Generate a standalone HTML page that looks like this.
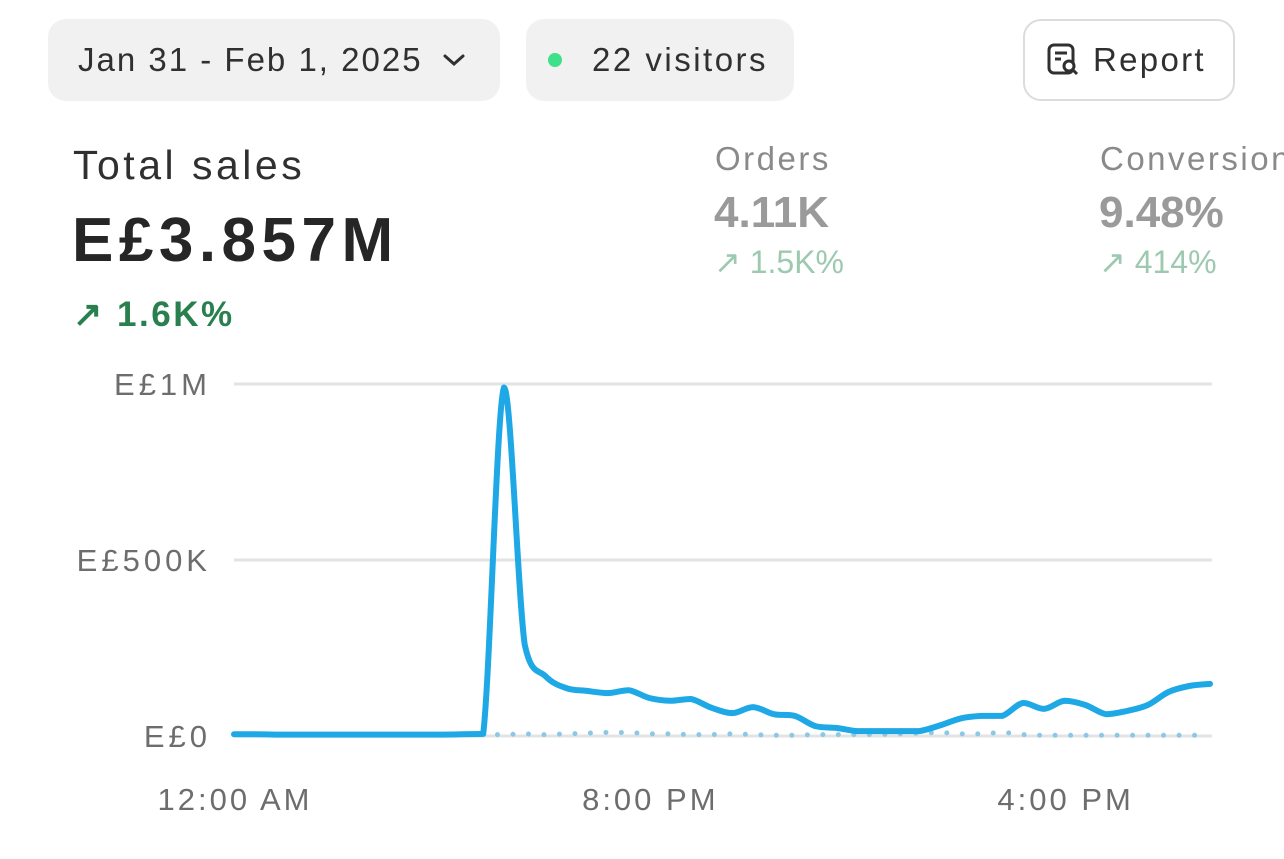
<!DOCTYPE html>
<html><head><meta charset="utf-8"><style>
body{margin:0;width:1284px;height:859px;background:#fff;font-family:"Liberation Sans",sans-serif;overflow:hidden;position:relative;color:#303030}
.pill{position:absolute;border-radius:18px;background:#f1f1f1;font-size:33px;display:flex;align-items:center;box-sizing:border-box;letter-spacing:2px}
.t{position:absolute;white-space:nowrap}
</style></head><body>
<div class="pill" style="left:48px;top:19px;width:452px;height:82px;padding-left:30px">Jan 31 - Feb 1, 2025<svg width="26" height="20" style="margin-left:18px" viewBox="0 0 26 20"><path d="M4 6 L13 14 L22 6" stroke="#303030" stroke-width="3" fill="none" stroke-linecap="round"/></svg></div>
<div class="pill" style="left:526px;top:19px;width:268px;height:82px;padding-left:22px;letter-spacing:2.5px"><span style="display:inline-block;width:14px;height:14px;border-radius:50%;background:#3ee08a;margin-right:30px"></span>22 visitors</div>
<div class="pill" style="left:1023px;top:19px;width:212px;height:82px;background:#fff;border:2px solid #dcdcdc;padding-left:20px;letter-spacing:2.3px"><svg width="36" height="36" viewBox="0 0 36 36" style="margin-right:12px"><rect x="4" y="3" width="24" height="28" rx="5" stroke="#303030" stroke-width="3" fill="none"/><path d="M10 11h12M10 17h6" stroke="#303030" stroke-width="3"/><circle cx="24" cy="24" r="5" stroke="#303030" stroke-width="3" fill="#fff"/><path d="M28 28l4 4" stroke="#303030" stroke-width="3"/></svg>Report</div>

<div class="t" style="left:73px;top:142px;font-size:41px;letter-spacing:3.5px">Total sales</div>
<div class="t" style="left:72px;top:205px;font-size:62px;font-weight:bold;color:#262626;letter-spacing:5.5px">E£3.857M</div>
<div class="t" style="left:73px;top:295px;font-size:35px;font-weight:bold;color:#2a7f4f;letter-spacing:2.5px">↗ 1.6K%</div>

<div class="t" style="left:715px;top:140px;font-size:33px;color:#8a8a8a;letter-spacing:2.5px">Orders</div>
<div class="t" style="left:714px;top:188px;font-size:44px;font-weight:bold;color:#9a9a9a">4.11K</div>
<div class="t" style="left:714px;top:243px;font-size:32px;color:#9cc9b0">↗ 1.5K%</div>
<div class="t" style="left:1100px;top:140px;font-size:33px;color:#8a8a8a;letter-spacing:2.5px">Conversion</div>
<div class="t" style="left:1099px;top:188px;font-size:44px;font-weight:bold;color:#9a9a9a">9.48%</div>
<div class="t" style="left:1099px;top:243px;font-size:32px;color:#9cc9b0">↗ 414%</div>

<svg id="chart" width="1284" height="859" style="position:absolute;left:0;top:0"></svg>
<script>
const yTicks=[0,0.5,1];
const yTickLabels=["E£0","E£500K","E£1M"];
const xTickIdx=[0,20,40];
const xTickLabels=["12:00 AM","8:00 PM","4:00 PM"];
const sales=[0.005,0.005,0.004,0.004,0.004,0.004,0.004,0.004,0.004,0.004,0.004,0.005,0.006,0.99,0.26,0.17,0.136,0.128,0.122,0.13,0.108,0.10,0.105,0.08,0.065,0.082,0.062,0.057,0.028,0.023,0.014,0.014,0.014,0.014,0.03,0.05,0.057,0.057,0.094,0.077,0.10,0.088,0.062,0.071,0.088,0.125,0.142,0.148];
const previous=[0.004,0.004,0.004,0.004,0.004,0.004,0.004,0.004,0.004,0.004,0.004,0.004,0.004,0.004,0.006,0.004,0.006,0.008,0.01,0.01,0.006,0.006,0.004,0.004,0.006,0.004,0.002,0.002,0.004,0.004,0.004,0.004,0.006,0.008,0.01,0.006,0.006,0.01,0.004,0.002,0.002,0.002,0.002,0.002,0.002,0.002,0.002,0.002];
const NS="http://www.w3.org/2000/svg",svg=document.getElementById('chart');
const x=i=>234+i*(976/47), y=v=>736-v*352;
function mk(t,a){const e=document.createElementNS(NS,t);for(const k in a)e.setAttribute(k,a[k]);svg.appendChild(e);return e;}
yTicks.forEach((v,i)=>{
 const l=mk('line',{x1:234,x2:1212,y1:y(v),y2:y(v),stroke:'#e3e3e3','stroke-width':3});
 
 
 const t=mk('text',{x:211,y:y(v)+11,'text-anchor':'end','font-size':31,fill:'#6d6d6d','letter-spacing':4});t.textContent=yTickLabels[i];
 
 
});
xTickIdx.forEach((v,i)=>{
 const t=mk('text',{x:x(v)+1,y:810,'text-anchor':'middle','font-size':31,fill:'#6d6d6d','letter-spacing':3});t.textContent=xTickLabels[i];
 
 
});
function path(arr){
 const P=arr.map((v,i)=>[x(i),y(v)]);let d='M'+P[0][0]+' '+P[0][1];
 const cl=(v,a,b)=>Math.max(Math.min(a,b),Math.min(Math.max(a,b),v));
 for(let i=0;i<P.length-1;i++){const p0=P[Math.max(0,i-1)],p1=P[i],p2=P[i+1],p3=P[Math.min(P.length-1,i+2)];
  const c1=[p1[0]+(p2[0]-p0[0])/6,cl(p1[1]+(p2[1]-p0[1])/6,p1[1],p2[1])],c2=[p2[0]-(p3[0]-p1[0])/6,cl(p2[1]-(p3[1]-p1[1])/6,p1[1],p2[1])];
  d+=`C${c1[0].toFixed(1)} ${c1[1].toFixed(1)} ${c2[0].toFixed(1)} ${c2[1].toFixed(1)} ${p2[0].toFixed(1)} ${p2[1].toFixed(1)}`;}
 return d;}
const p=mk('path',{d:path(previous),stroke:'#8cc8e6','stroke-width':5,fill:'none','stroke-dasharray':'0 15.5','stroke-linecap':'round'});


const s=mk('path',{d:path(sales),stroke:'#1ea8e6','stroke-width':6,fill:'none','stroke-linejoin':'round','stroke-linecap':'round'});


</script>
</body></html>
